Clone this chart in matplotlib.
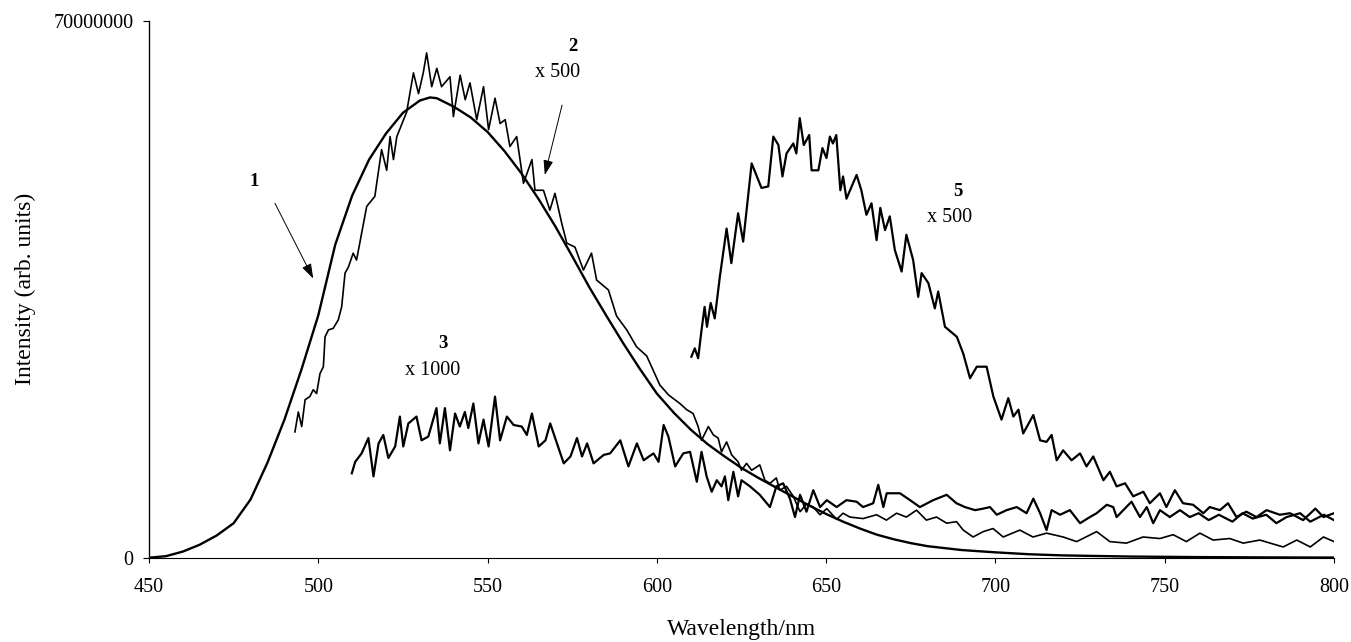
import numpy as np
import matplotlib
matplotlib.use("Agg")
from matplotlib import pyplot as plt

# curve 1 (smooth)
wl1 = [450, 455, 460, 465, 470, 475, 480, 485, 490, 495, 500, 505, 510, 515, 520, 525, 530, 533, 535, 540,
       545, 550, 555, 560, 565, 570, 575, 580, 585, 590, 595, 600, 605, 610, 615, 620, 625, 630, 635, 640,
       645, 650, 655, 660, 665, 670, 675, 680, 690, 700, 710, 720, 740, 760, 780, 800]
int1 = [0.0, 0.2, 0.8, 1.7, 2.9, 4.5, 7.6, 12.4, 18.0, 24.5, 31.6, 40.8, 47.2, 51.9, 55.3, 58.0, 59.6, 60.0, 59.9, 58.8,
        57.4, 55.5, 53.0, 50.1, 46.8, 43.2, 39.3, 35.3, 31.6, 28.0, 24.6, 21.4, 18.9, 16.7, 14.8, 13.2, 11.7, 10.4, 9.2, 8.0,
        6.8, 5.7, 4.7, 3.8, 3.0, 2.4, 1.9, 1.5, 1.0, 0.7, 0.45, 0.3, 0.15, 0.08, 0.04, 0.02]

# curve 2 (x 500)
wl2 = [493.1, 494.1, 495.1, 496.1, 497.5, 498.5, 499.5, 500.5, 501.5, 502.0,
       503.0, 504.4, 505.9, 506.9, 507.9, 508.9, 510.3, 511.3, 514.3, 516.7,
       518.7, 520.2, 521.2, 522.2, 523.2, 526.1, 528.1, 529.6, 531.0, 532.0,
       533.5, 535.0, 536.4, 538.9, 539.9, 541.9, 543.4, 544.8, 546.8, 548.8,
       550.3, 552.2, 553.7, 555.2, 556.6, 558.6, 560.6, 563.1, 564.0, 566.5,
       568.4, 569.9, 571.9, 573.4, 575.8, 578.3, 580.7, 582.2, 585.7, 588.1,
       591.1, 594.0, 597.0, 600.9, 603.5, 606.8, 608.8, 610.7, 612.2, 613.2,
       615.2, 616.7, 618.1, 619.1, 620.6, 622.1, 624.0, 625.0, 626.5, 628.0,
       630.4, 631.9, 633.4, 635.3, 636.3, 638.3, 640.3, 642.3, 644.2, 646.2,
       648.2, 650.2, 653.1, 655.0, 657.0, 660.9, 664.9, 667.8, 670.8, 673.7,
       676.7, 679.6, 682.6, 685.6, 688.5, 690.5, 693.4, 696.4, 699.3, 702.3,
       707.2, 711.1, 715.1, 720.0, 724.0, 729.9, 733.8, 738.7, 743.6, 748.6,
       752.5, 756.4, 760.4, 764.3, 769.2, 773.2, 778.1, 785.0, 789.0, 793.0,
       796.9, 800.0]
int2 = [16.4, 19.0, 17.1, 20.6, 21.0, 21.9, 21.4, 24.0, 24.9, 28.8,
        29.7, 29.9, 31.0, 32.7, 37.1, 37.9, 39.7, 38.8, 45.8, 47.1,
        53.2, 50.5, 54.9, 51.9, 54.9, 58.1, 63.2, 60.5, 63.2, 65.8,
        61.4, 63.8, 61.4, 62.7, 57.5, 62.9, 59.7, 61.9, 57.1, 61.4,
        55.8, 59.9, 56.6, 57.1, 53.6, 54.9, 48.8, 51.9, 47.9, 47.9,
        45.3, 47.5, 43.6, 41.0, 40.5, 37.5, 39.7, 36.2, 34.9, 31.5,
        29.7, 27.5, 26.3, 22.5, 21.2, 20.1, 19.3, 18.8, 17.1, 15.3,
        17.1, 16.0, 15.6, 13.8, 15.1, 13.4, 12.5, 11.4, 12.3, 11.4,
        12.1, 10.1, 9.7, 10.4, 8.8, 9.3, 8.0, 6.0, 7.0, 6.6,
        5.6, 6.4, 5.0, 5.8, 5.3, 5.1, 5.6, 4.9, 5.8, 5.3,
        6.2, 4.9, 5.3, 4.5, 4.7, 3.6, 2.7, 3.4, 3.8, 2.7,
        3.6, 2.7, 3.2, 2.7, 2.1, 3.4, 2.1, 1.9, 2.7, 2.5,
        3.0, 2.1, 3.2, 2.3, 2.5, 1.9, 2.3, 1.4, 2.3, 1.4,
        2.7, 2.1]

# curve 3 (x 1000)
wl3 = [509.9, 510.9, 512.8, 514.8, 516.3, 517.8, 519.2, 520.7, 522.7, 524.1,
       525.1, 526.6, 529.0, 530.5, 532.5, 534.9, 535.9, 537.4, 538.9, 540.4,
       541.8, 543.3, 544.3, 545.8, 547.3, 548.8, 550.3, 552.2, 553.7, 555.7,
       557.7, 560.1, 561.6, 563.1, 565.1, 567.1, 568.5, 570.5, 572.5, 574.5,
       576.4, 577.9, 579.4, 581.3, 584.3, 586.2, 589.2, 591.6, 594.1, 596.1,
       599.0, 600.5, 602.0, 603.4, 605.4, 607.8, 609.8, 611.8, 613.2, 614.7,
       616.2, 617.7, 619.1, 620.1, 621.1, 622.6, 624.0, 625.0, 627.5, 630.4,
       633.4, 635.3, 637.3, 639.3, 640.8, 642.3, 644.2, 646.2, 648.2, 650.2,
       653.1, 656.0, 659.0, 660.9, 663.9, 665.4, 666.9, 667.9, 671.8, 674.8,
       677.7, 681.6, 685.6, 688.5, 691.0, 694.0, 696.4, 698.4, 700.4, 703.3,
       706.3, 709.2, 711.2, 713.2, 715.1, 716.6, 719.1, 722.0, 725.0, 727.9,
       729.9, 732.9, 734.8, 735.8, 737.8, 740.2, 742.7, 744.7, 746.6, 748.6,
       751.5, 754.5, 757.4, 760.0, 763.0, 766.0, 770.0, 773.0, 776.0, 780.0,
       783.0, 786.0, 790.0, 793.0, 797.0, 800.0]
int3 = [11.0, 12.5, 13.6, 15.6, 10.6, 14.9, 16.0, 13.0, 14.5, 18.4,
        14.5, 17.5, 18.4, 15.3, 15.8, 19.5, 14.9, 19.5, 14.0, 18.8,
        17.1, 19.0, 16.9, 20.1, 14.9, 18.0, 14.5, 21.0, 15.3, 18.4,
        17.3, 17.1, 16.0, 18.8, 14.5, 15.3, 17.5, 14.9, 12.3, 13.2,
        15.6, 13.2, 14.9, 12.3, 13.4, 13.6, 15.3, 11.9, 14.9, 12.7,
        13.6, 12.5, 17.3, 15.8, 11.9, 13.6, 13.8, 9.9, 13.8, 10.6,
        8.6, 10.1, 9.3, 10.6, 7.5, 11.2, 8.0, 10.1, 9.3, 8.2,
        6.6, 9.3, 9.7, 7.7, 5.3, 8.2, 6.0, 8.8, 6.6, 7.5,
        6.6, 7.5, 7.3, 6.6, 7.1, 9.5, 6.6, 8.4, 8.4, 7.5,
        6.6, 7.5, 8.2, 7.1, 6.6, 6.2, 6.4, 6.6, 5.6, 6.2,
        6.6, 5.8, 7.7, 5.8, 3.6, 6.2, 5.6, 6.2, 4.5, 5.3,
        5.8, 6.9, 6.6, 5.3, 6.2, 7.3, 5.3, 6.6, 4.5, 6.2,
        5.3, 6.2, 5.3, 5.8, 4.9, 5.6, 4.7, 5.8, 5.1, 5.6,
        4.5, 5.3, 5.8, 4.7, 5.6, 4.9]

# curve 5 (x 500)
wl5 = [610.2, 611.2, 612.2, 613.2, 614.1, 614.8, 615.9, 617.1, 618.6, 620.6,
       622.0, 624.0, 625.5, 628.0, 630.9, 632.9, 634.4, 635.9, 637.1, 638.3,
       640.3, 641.2, 642.2, 643.4, 645.0, 645.7, 647.7, 648.9, 650.1, 651.1,
       652.0, 653.0, 654.2, 655.0, 656.0, 659.0, 660.4, 661.9, 663.4, 664.9,
       666.0, 667.4, 668.8, 670.3, 672.3, 673.7, 675.7, 677.2, 678.2, 680.2,
       682.1, 683.1, 685.1, 688.6, 690.5, 692.5, 694.5, 697.4, 699.4, 701.8,
       703.8, 705.3, 706.8, 708.2, 711.2, 713.2, 715.1, 716.6, 718.1, 720.0,
       722.5, 725.0, 726.9, 728.9, 731.9, 733.8, 735.8, 738.3, 740.7, 743.7,
       745.6, 748.6, 750.5, 753.0, 755.4, 758.4, 761.4, 763.3, 766.3, 768.7,
       771.2, 774.1, 777.1, 780.1, 784.0, 787.0, 790.9, 794.5, 796.9, 800.0]
int5 = [26.2, 27.3, 26.0, 29.7, 32.7, 30.1, 33.2, 31.2, 36.6, 42.9,
        38.4, 44.9, 41.2, 51.4, 48.2, 48.4, 54.9, 53.8, 49.7, 52.7,
        54.0, 52.7, 57.3, 53.8, 55.1, 50.5, 50.5, 53.4, 52.1, 54.9,
        54.0, 55.1, 47.9, 49.7, 46.8, 49.9, 47.9, 44.7, 46.2, 41.4,
        45.6, 42.7, 44.5, 40.1, 37.3, 42.1, 38.8, 34.0, 37.1, 35.8,
        32.5, 34.7, 30.1, 28.8, 26.6, 23.4, 24.9, 24.9, 21.0, 18.0,
        20.8, 18.4, 19.3, 16.2, 18.6, 15.3, 15.1, 16.0, 12.7, 14.0,
        12.7, 13.6, 11.9, 13.2, 10.1, 11.2, 9.3, 9.7, 8.0, 8.6,
        7.1, 8.4, 6.6, 8.8, 7.1, 6.9, 5.8, 6.6, 6.2, 7.1,
        5.3, 6.0, 5.3, 6.2, 5.6, 5.8, 4.9, 6.4, 5.3, 5.8]

xticks = [450, 500, 550, 600, 650, 700, 750, 800]
yticks = [0, 70000000]

plt.rcParams['font.family'] = ['Liberation Serif', 'DejaVu Serif']

fig = plt.figure(figsize=(13.51, 6.42), dpi=100)
ax = fig.add_axes([0.1103, 0.1313, 0.8771, 0.8364])

M = 1e6
ax.plot(wl1, np.array(int1) * M, color='black', lw=1.7)
ax.plot(wl2, np.array(int2) * M, color='black', lw=1.2)
ax.plot(wl3, np.array(int3) * M, color='black', lw=1.6)
ax.plot(wl5, np.array(int5) * M, color='black', lw=1.6)

ax.set_xlim(450, 800)
ax.set_ylim(0, 70000000)
ax.set_xticks(xticks)
ax.set_yticks(yticks)
ax.set_yticklabels(['0', '70000000'])
ax.tick_params(axis='x', direction='out', length=3.6, width=0.8, pad=11, labelsize=14.5)
ax.tick_params(axis='y', direction='out', length=4.3, width=0.8, pad=7, labelsize=14.5)
for s in ['top', 'right']:
    ax.spines[s].set_visible(False)
ax.spines['left'].set_linewidth(1.0)
ax.spines['bottom'].set_linewidth(0.8)

ax.set_xlabel('Wavelength/nm', fontsize=17)
ax.set_ylabel('Intensity (arb. units)', fontsize=17)
ax.xaxis.set_label_coords(0.5, -0.115)
ax.yaxis.set_label_coords(-0.095, 0.5)

# curve labels
ax.text(481.0, 49.1 * M, '1', fontsize=13.5, fontweight='bold', ha='center', va='center')
ax.text(575.3, 66.6 * M, '2', fontsize=13.5, fontweight='bold', ha='center', va='center')
ax.text(570.8, 63.2 * M, 'x 500', fontsize=14.5, ha='center', va='center')
ax.text(536.7, 27.95 * M, '3', fontsize=13.5, fontweight='bold', ha='center', va='center')
ax.text(533.8, 24.4 * M, 'x 1000', fontsize=14.5, ha='center', va='center')
ax.text(689.0, 47.7 * M, '5', fontsize=13.5, fontweight='bold', ha='center', va='center')
ax.text(686.6, 44.4 * M, 'x 500', fontsize=14.5, ha='center', va='center')

arrow = dict(arrowstyle='-|>,head_length=0.9,head_width=0.3', color='black', lw=0.7,
             mutation_scale=10, shrinkA=0, shrinkB=0)
ax.annotate('', xy=(498.5, 36.4 * M), xytext=(487.2, 46.2 * M), arrowprops=arrow)
ax.annotate('', xy=(566.9, 49.9 * M), xytext=(572.0, 59.0 * M), arrowprops=arrow)

fig.savefig('out.png', dpi=100)
